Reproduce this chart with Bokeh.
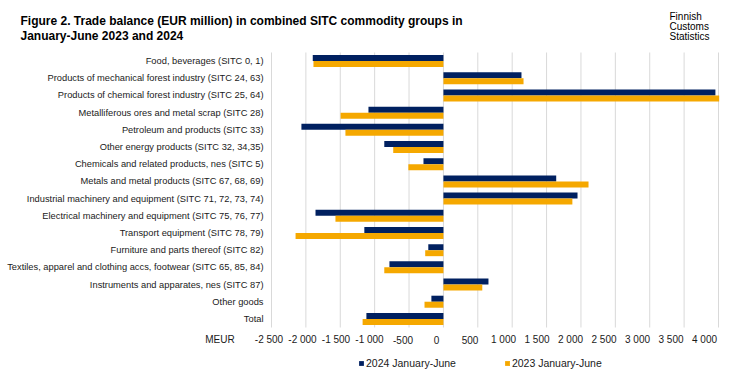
from bokeh.plotting import figure
from bokeh.models import ColumnDataSource, Range1d, Label, Legend, LegendItem
from bokeh.core.properties import value
from bokeh.transform import dodge
from bokeh.embed import file_html
from bokeh.resources import INLINE

categories = [
    "Food, beverages (SITC 0, 1)",
    "Products of mechanical forest industry (SITC 24, 63)",
    "Products of chemical forest industry (SITC 25, 64)",
    "Metalliferous ores and metal scrap (SITC 28)",
    "Petroleum and products (SITC 33)",
    "Other energy products (SITC 32, 34,35)",
    "Chemicals and related products, nes (SITC 5)",
    "Metals and metal products (SITC 67, 68, 69)",
    "Industrial machinery and equipment (SITC 71, 72, 73, 74)",
    "Electrical machinery and equipment (SITC 75, 76, 77)",
    "Transport equipment (SITC 78, 79)",
    "Furniture and parts thereof (SITC 82)",
    "Textiles, apparel and clothing accs, footwear (SITC 65, 85, 84)",
    "Instruments and apparates, nes (SITC 87)",
    "Other goods",
    "Total",
]
v2024 = [-1900, 1135, 3955, -1090, -2065, -860, -290, 1640, 1950, -1860, -1150, -220, -785, 655, -175, -1120]
v2023 = [-1890, 1165, 4010, -1495, -1425, -730, -510, 2110, 1875, -1570, -2150, -265, -860, 565, -275, -1175]
series_names = ["2024 January-June", "2023 January-June"]
ticks = [-2500, -2000, -1500, -1000, -500, 0, 500, 1000, 1500, 2000, 2500, 3000, 3500, 4000]
tick_labels = ["-2 500", "-2 000", "-1 500", "-1 000", "-500", "0", "500", "1 000", "1 500",
               "2 000", "2 500", "3 000", "3 500", "4 000"]
unit_label = "MEUR"
title_lines = ["Figure 2. Trade balance (EUR million) in combined SITC commodity groups in",
               "January-June 2023 and 2024"]
source_lines = ["Finnish", "Customs", "Statistics"]

NAVY = "#002060"
ORANGE = "#F5A800"
GRID = "#D9D9D9"
TXT = "#1A1A1A"
FONT = "Liberation Sans"

# ---- layout (pixels) ----
W, H = 737, 378
PL, PR, PT, PB = 271, 718, 52, 327          # plotting area
XMIN, XMAX = ticks[0], ticks[-1]
N = len(categories)
KX = (XMAX - XMIN) / (PR - PL)              # value units per pixel
ROW = (PB - PT) / N                         # pixels per category row


def x_of(px):
    return XMIN + (px - PL) * KX


def y_of(py):
    return (py - PT) / ROW - 0.5


p = figure(width=W, height=H,
           x_range=Range1d(x_of(0), x_of(W)),
           y_range=Range1d(y_of(H), y_of(0)),       # category 0 at the top
           x_axis_location=None, y_axis_location=None,
           output_backend="svg", toolbar_location=None, min_border=0)
p.outline_line_color = None
p.background_fill_color = "white"
p.border_fill_color = "white"
p.xgrid.visible = False
p.ygrid.visible = False

# vertical grid lines at the value ticks, spanning the category rows
p.segment(x0=ticks, x1=ticks, y0=-0.5, y1=N - 0.5, line_color=GRID, line_width=1)

src = ColumnDataSource(dict(idx=list(range(N)), cat=categories, v2024=v2024, v2023=v2023))
r1 = p.hbar(y=dodge("idx", -0.175), right="v2024", left=0, height=0.35,
            source=src, fill_color=NAVY, line_color=None)
r2 = p.hbar(y=dodge("idx", 0.175), right="v2023", left=0, height=0.35,
            source=src, fill_color=ORANGE, line_color=None)

# category labels
p.text(x=x_of(PL - 8), y="idx", text="cat", source=src, text_align="right",
       text_baseline="middle", text_font=value(FONT), text_font_size="9.3px", text_color=TXT)

# value tick labels (the reference places them on a slightly tighter spacing than the grid)
LBL_X0, LBL_STEP = 268.5, 33.5
lbl_x = [x_of(LBL_X0 + LBL_STEP * (t - XMIN) / (ticks[1] - ticks[0])) for t in ticks]
tick_src = ColumnDataSource(dict(x=lbl_x, text=tick_labels))
p.text(x="x", y=y_of(339), text="text", source=tick_src, text_align="center",
       text_baseline="middle", text_font=value(FONT), text_font_size="10px", text_color=TXT)
p.add_layout(Label(x=x_of(219.5), y=y_of(339), text=unit_label, text_font=FONT,
                   text_font_size="10px", text_color=TXT, text_align="center",
                   text_baseline="middle"))

# title and source
for txt, yb in zip(title_lines, [20, 35]):
    p.add_layout(Label(x=x_of(20), y=y_of(yb), text=txt, text_font=FONT, text_font_size="12px",
                       text_font_style="bold", text_color="black", text_baseline="alphabetic"))
for txt, yc in zip(source_lines, [15.5, 26, 36]):
    p.add_layout(Label(x=x_of(669), y=y_of(yc), text=txt, text_font=FONT, text_font_size="10px",
                       text_color="black", text_baseline="middle"))

legend = Legend(items=[LegendItem(label=series_names[0], renderers=[r1]),
                       LegendItem(label=series_names[1], renderers=[r2])],
                orientation="horizontal", location=(358, 9),
                glyph_width=6, glyph_height=6, label_standoff=2, spacing=48,
                padding=0, margin=0, border_line_color=None, background_fill_alpha=0,
                label_text_font=FONT, label_text_font_size="10.5px", label_text_color=TXT,
                label_height=12, label_text_baseline="middle")
p.add_layout(legend)

open("out.html", "w").write(file_html(p, INLINE))
